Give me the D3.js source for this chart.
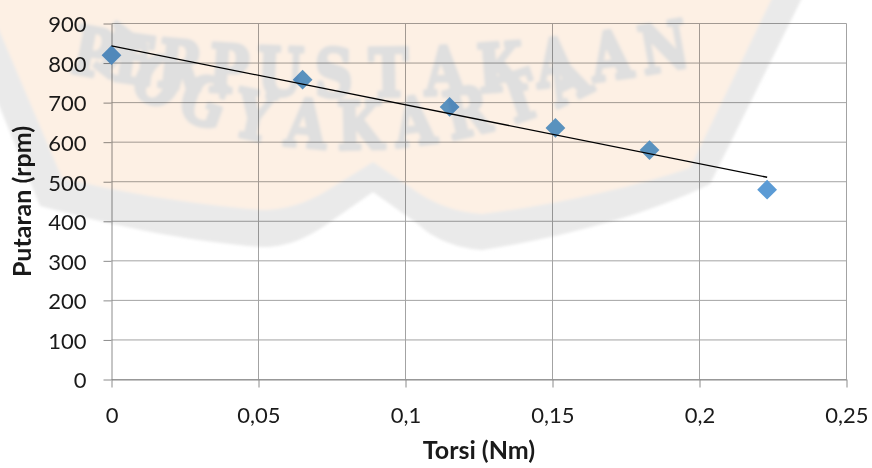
<!DOCTYPE html>
<html>
<head>
<meta charset="utf-8">
<script src="https://cdn.jsdelivr.net/npm/d3@7"></script>
<style>
  html, body { margin: 0; padding: 0; background: #ffffff; }
  svg { display: block; }
  .tick-label { font-family: Lato, "Open Sans", sans-serif; font-size: 22px; fill: #1a1a1a; }
  .axis-title { font-family: Lato, "Open Sans", sans-serif; font-size: 25px; font-weight: bold; fill: #1a1a1a; }
</style>
</head>
<body>
<svg id="chart" width="872" height="468"></svg>
<script>
// Torque (Nm) against rotational speed (rpm)
const torsi   = [0, 0.065, 0.115, 0.151, 0.183, 0.223];
const putaran = [820, 758, 689, 636, 580, 480];

const xTicks = [0, 0.05, 0.1, 0.15, 0.2, 0.25];
const xTickLabels = ["0", "0,05", "0,1", "0,15", "0,2", "0,25"];
const yTicks = [0, 100, 200, 300, 400, 500, 600, 700, 800, 900];

const xTitle = "Torsi (Nm)";
const yTitle = "Putaran (rpm)";

const svg = d3.select("#chart");
const W = 872, H = 468;
const plot = { left: 111.5, right: 846.5, top: 23.5, bottom: 379.5 };

const x = d3.scaleLinear().domain([0, 0.25]).range([plot.left, plot.right]);
const y = d3.scaleLinear().domain([0, 900]).range([plot.bottom, plot.top]);

svg.append("rect").attr("width", W).attr("height", H).attr("fill", "#ffffff");

// gridlines
const grid = svg.append("g");
grid.selectAll("line.h").data(yTicks).join("line")
  .attr("x1", plot.left).attr("x2", plot.right)
  .attr("y1", d => y(d)).attr("y2", d => y(d))
  .attr("stroke", "#a3a3a3").attr("stroke-width", 1);
grid.selectAll("line.v").data(xTicks.slice(1)).join("line")
  .attr("x1", d => x(d)).attr("x2", d => x(d))
  .attr("y1", plot.top).attr("y2", plot.bottom)
  .attr("stroke", "#a3a3a3").attr("stroke-width", 1);

// axes
const xAxis = d3.axisBottom(x).tickValues(xTicks)
  .tickFormat((d, i) => xTickLabels[i]).tickSizeInner(8).tickSizeOuter(0).tickPadding(20);
const yAxis = d3.axisLeft(y).tickValues(yTicks)
  .tickFormat(d3.format("d")).tickSizeInner(8).tickSizeOuter(0).tickPadding(17);

const gx = svg.append("g").attr("transform", `translate(0,${plot.bottom})`).call(xAxis);
const gy = svg.append("g").attr("transform", `translate(${plot.left},0)`).call(yAxis);
[gx, gy].forEach(g => {
  g.attr("font-family", null).attr("font-size", null);
  g.select(".domain").attr("stroke", "#8c8c8c").attr("stroke-width", 1);
  g.selectAll(".tick line").attr("stroke", "#8c8c8c");
  g.selectAll(".tick text").attr("class", "tick-label").attr("fill", null);
});
gy.selectAll(".tick text").attr("dy", "0.38em");

// axis titles
svg.append("text").attr("class", "axis-title")
  .attr("x", (plot.left + plot.right) / 2).attr("y", 459)
  .attr("text-anchor", "middle").text(xTitle);
svg.append("text").attr("class", "axis-title")
  .attr("transform", `translate(31,${(plot.top + plot.bottom) / 2}) rotate(-90)`)
  .attr("text-anchor", "middle").text(yTitle);

// data markers (diamonds)
const pts = torsi.map((t, i) => [t, putaran[i]]);
svg.append("g").selectAll("path").data(pts).join("path")
  .attr("transform", d => `translate(${x(d[0])},${y(d[1])})`)
  .attr("d", d3.symbol(d3.symbolDiamond2, 250))
  .attr("fill", "#5b9bd5");

// linear trend line (least squares)
const mx = d3.mean(torsi), my = d3.mean(putaran);
const sxy = d3.sum(torsi, (t, i) => (t - mx) * (putaran[i] - my));
const sxx = d3.sum(torsi, t => (t - mx) * (t - mx));
const slope = sxy / sxx, intercept = my - slope * mx;
const [x0, x1] = d3.extent(torsi);
svg.append("line")
  .attr("x1", x(x0)).attr("y1", y(intercept + slope * x0))
  .attr("x2", x(x1)).attr("y2", y(intercept + slope * x1))
  .attr("stroke", "#000000").attr("stroke-width", 1.3);

// library watermark stamped over the page
const defs = svg.append("defs");
defs.append("filter").attr("id", "soft").attr("x", "-5%").attr("y", "-5%").attr("width", "110%").attr("height", "110%")
  .append("feGaussianBlur").attr("stdDeviation", 1.4);

const wm = svg.append("g").style("mix-blend-mode", "multiply").style("isolation", "isolate")
  .attr("filter", "url(#soft)");
wm.append("path")
  .attr("d", "M-48,-10 L806,-10 L710,184 C650,214 560,238 482,250 C455,248 432,238 418,224 L373,192 L330,222 C305,240 285,247 262,247 C180,241 100,222 40,206 Z")
  .attr("fill", "#eaeaea");
wm.append("path")
  .attr("d", "M-18,-10 L776,-10 L690,168 C630,188 560,204 482,214 C455,212 436,204 420,194 L373,162 L328,190 C305,204 285,210 262,210 C185,204 110,190 62,178 Z")
  .attr("fill", "#fdf0e4");

// letters laid out along a cubic curve
function bez(c, t) {
  const u = 1 - t;
  const a = u * u * u, b = 3 * u * u * t, d = 3 * u * t * t, e = t * t * t;
  return [a * c[0][0] + b * c[1][0] + d * c[2][0] + e * c[3][0],
          a * c[0][1] + b * c[1][1] + d * c[2][1] + e * c[3][1]];
}
function arcLetters(letters, ctrl, t0, t1, size) {
  const n = letters.length;
  letters.split("").forEach((ch, i) => {
    const t = t0 + (t1 - t0) * i / (n - 1);
    const p = bez(ctrl, t), q = bez(ctrl, t + 0.002);
    const ang = Math.atan2(q[1] - p[1], q[0] - p[0]) * 180 / Math.PI;
    wm.append("text")
      .attr("transform", `translate(${p[0]},${p[1]}) rotate(${ang}) scale(0.8,1)`)
      .attr("text-anchor", "middle")
      .attr("font-family", "'DejaVu Serif', serif")
      .attr("font-weight", "bold")
      .attr("font-size", size)
      .attr("fill", "#dfdfdf")
      .attr("stroke", "#dfdfdf").attr("stroke-width", 4).attr("stroke-linejoin", "round")
      .text(ch);
  });
}
arcLetters("PERPUSTAKAAN", [[80, 74], [230, 104], [480, 106], [680, 68]], 0.02, 0.98, 66);
arcLetters("YOGYAKARTA", [[90, 62], [220, 175], [440, 170], [590, 92]], 0.03, 0.97, 66);
</script>
</body>
</html>
